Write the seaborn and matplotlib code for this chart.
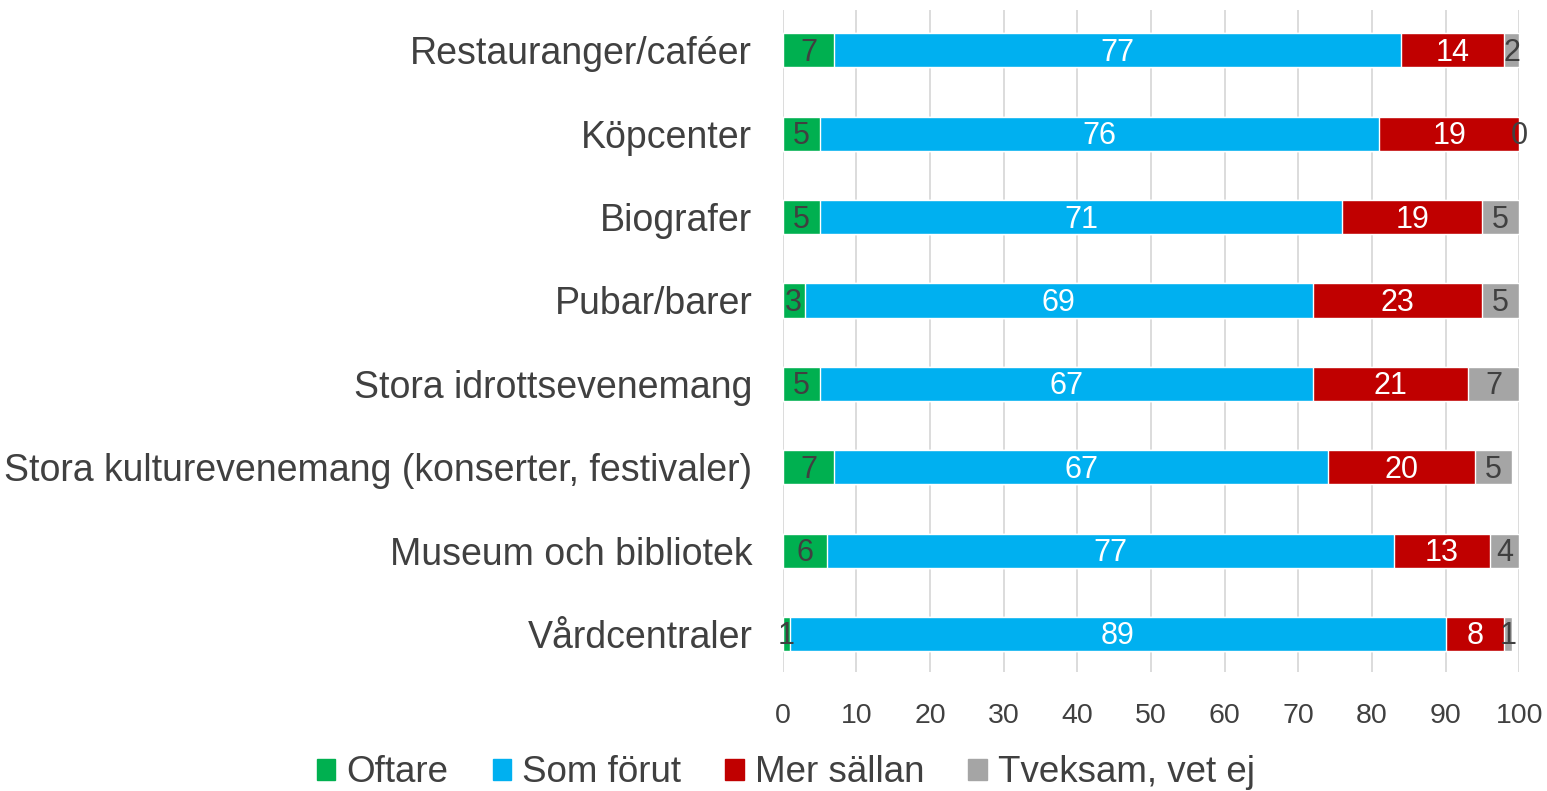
import numpy as np
import matplotlib
matplotlib.use('Agg')
import matplotlib.pyplot as plt
from matplotlib.patches import Patch
import seaborn as sns
import pandas as pd

# chart data (percent)
categories = ['Restauranger/caféer', 'Köpcenter', 'Biografer', 'Pubar/barer',
              'Stora idrottsevenemang', 'Stora kulturevenemang (konserter, festivaler)',
              'Museum och bibliotek', 'Vårdcentraler']
series = ['Oftare', 'Som förut', 'Mer sällan', 'Tveksam, vet ej']
oftare = [7, 5, 5, 3, 5, 7, 6, 1]
som_forut = [77, 76, 71, 69, 67, 67, 77, 89]
mer_sallan = [14, 19, 19, 23, 21, 20, 13, 8]
tveksam = [2, 0, 5, 5, 7, 5, 4, 1]

colors = ['#00B050', '#00B0F0', '#C00000', '#A5A5A5']
label_colors = ['#404040', 'white', 'white', '#404040']

sns.set_style('white')
plt.rcParams['font.family'] = ['Liberation Sans', 'DejaVu Sans']

df = pd.DataFrame({'cat': categories, 'Oftare': oftare, 'Som förut': som_forut,
                   'Mer sällan': mer_sallan, 'Tveksam, vet ej': tveksam})
vals = df[series].to_numpy(dtype=float)
cum = vals.cumsum(axis=1)

fig = plt.figure(figsize=(15.47, 7.91), dpi=100)
ax = fig.add_axes([0.506, 0.150, 0.476, 0.837])

# stacked bars: draw cumulative totals from the outermost layer inward
for i in range(len(series) - 1, -1, -1):
    sns.barplot(x=cum[:, i], y=df['cat'], color=colors[i], orient='h',
                width=0.41, saturation=1, ax=ax, zorder=2)

# segment labels
for j in range(len(categories)):
    for i in range(len(series)):
        start = cum[j, i] - vals[j, i]
        ax.text(start + vals[j, i] / 2, j + 0.03, f'{int(vals[j, i])}', ha='center',
                va='center', fontsize=22, color=label_colors[i], zorder=3)

ax.set_xlim(0, 100)
ax.set_ylim(7.46, -0.48)
ax.set_xticks(np.arange(0, 101, 10))
ax.grid(axis='x', color='#D9D9D9', linewidth=1.3, zorder=0)
ax.set_axisbelow(True)
for s in ax.spines.values():
    s.set_visible(False)
ax.tick_params(axis='x', labelsize=20.5, colors='#404040', length=0, pad=22)
ax.tick_params(axis='y', labelsize=27, colors='#404040', length=0, pad=22)
ax.set_xlabel('')
ax.set_ylabel('')

handles = [Patch(color=c, label=s) for c, s in zip(colors, series)]
fig.legend(handles=handles, loc='center', bbox_to_anchor=(0.508, 0.023), ncol=4,
           frameon=False, fontsize=26.5, handlelength=0.5, handleheight=0.5,
           handletextpad=0.3, columnspacing=1.2, labelcolor='#404040')

fig.savefig('out.png', dpi=100)
